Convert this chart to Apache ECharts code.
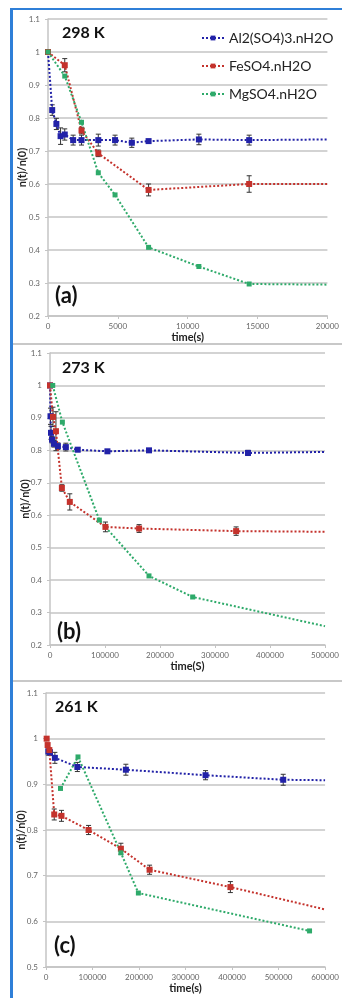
<!DOCTYPE html>
<html><head><meta charset="utf-8">
<script src="https://cdn.jsdelivr.net/npm/echarts@6/dist/echarts.min.js"></script>
<style>html,body{margin:0;padding:0;background:#fff}#c{width:342px;height:998px}</style>
</head><body><div id="c"></div>
<script>
const seriesNames = ['Al2(SO4)3.nH2O', 'FeSO4.nH2O', 'MgSO4.nH2O'];
const panelTemps = ['298 K', '273 K', '261 K'];
const panelTags = ['(a)', '(b)', '(c)'];
const xNames = ['time(s)', 'time(S)', 'time(s)'];

// ---- Panel (a) 298 K ----
const alT_a = [0, 300, 600, 900, 1200, 1800, 2400, 3600, 4800, 6000, 7200, 10800, 14400];
const alV_a = [1.0, 0.824, 0.782, 0.745, 0.75, 0.733, 0.733, 0.733, 0.733, 0.725, 0.73, 0.735, 0.733];
const alE_a = [0, 0.016, 0.017, 0.025, 0.017, 0.015, 0.015, 0.018, 0.015, 0.014, 0.004, 0.016, 0.015];
const alTail_a = [20000, 0.735];
const feT_a = [0, 1200, 2400, 3600, 7200, 14400];
const feV_a = [1.0, 0.96, 0.762, 0.693, 0.582, 0.60];
const feE_a = [0, 0.02, 0.01, 0.01, 0.018, 0.025];
const feTail_a = [20000, 0.60];
const mgT_a = [0, 1200, 2400, 3600, 4800, 7200, 10800, 14400];
const mgV_a = [1.0, 0.927, 0.787, 0.634, 0.567, 0.408, 0.35, 0.297];
const mgTail_a = [20000, 0.295];

// ---- Panel (b) 273 K ----
const alT_b = [0, 900, 1800, 3600, 7200, 14400, 28800, 50400, 104400, 180000, 360000];
const alV_b = [1.0, 0.905, 0.854, 0.833, 0.82, 0.813, 0.81, 0.802, 0.797, 0.80, 0.792];
const alE_b = [0, 0.025, 0.02, 0.01, 0.01, 0.01, 0.012, 0.006, 0.005, 0.005, 0.008];
const alTail_b = [500000, 0.795];
const feT_b = [0, 5400, 10800, 21600, 36000, 100800, 162000, 338400];
const feV_b = [1.0, 0.903, 0.859, 0.684, 0.641, 0.564, 0.559, 0.551];
const feE_b = [0, 0.03, 0.06, 0.01, 0.025, 0.015, 0.012, 0.013];
const feTail_b = [500000, 0.549];
const mgT_b = [5000, 22500, 89700, 180000, 259400];
const mgV_b = [1.0, 0.887, 0.585, 0.413, 0.348];
const mgTail_b = [500000, 0.258];

// ---- Panel (c) 261 K ----
const alT_c = [5000, 8500, 19100, 67400, 171700, 343000, 510000];
const alV_c = [0.972, 0.970, 0.958, 0.938, 0.932, 0.920, 0.910];
const alE_c = [0.008, 0.006, 0.012, 0.01, 0.012, 0.01, 0.012];
const alTail_c = [600000, 0.909];
const feT_c = [1400, 3500, 7200, 17700, 33300, 91500, 161000, 222700, 396400];
const feV_c = [1.0, 0.986, 0.975, 0.834, 0.831, 0.80, 0.759, 0.713, 0.675];
const feE_c = [0, 0, 0, 0.012, 0.012, 0.01, 0.012, 0.01, 0.012];
const feTail_c = [600000, 0.626];
const mgT_c = [31200, 68800, 161000, 198600, 566600];
const mgV_c = [0.891, 0.96, 0.75, 0.662, 0.579];

const xMax = [20000, 500000, 600000];
const xInterval = [5000, 100000, 100000];
const yMin = [0.2, 0.2, 0.5];
const yMax = [1.1, 1.1, 1.1];

const colors = ['#2222a8', '#c4322c', '#2eaa6a'];
const grids = [
  {left: 48, top: 19, right: 10, height: 297},
  {left: 50, top: 353, right: 17, height: 292},
  {left: 46, top: 693, right: 14, height: 274}
];
const yNameGap = [20, 19, 19];

function lineSeries(k, ts, vs, tail, gi) {
  const data = ts.map((t, i) => [t, vs[i]]);
  if (tail) data.push({value: tail, symbol: 'none'});
  return {
    type: 'line', name: seriesNames[k], xAxisIndex: gi, yAxisIndex: gi, data,
    symbol: 'rect', symbolSize: k === 2 ? 5 : 6,
    itemStyle: {color: colors[k]},
    lineStyle: {color: colors[k], width: 2, type: [2, 2]},
    z: 3, animation: false
  };
}
function renderErr(params, api) {
  const x = api.value(0), y = api.value(1), e = api.value(2);
  const lo = api.coord([x, y - e]), hi = api.coord([x, y + e]);
  const w = 2.5, st = {stroke: '#333', lineWidth: 1};
  return {type: 'group', children: [
    {type: 'line', shape: {x1: lo[0], y1: lo[1], x2: hi[0], y2: hi[1]}, style: st},
    {type: 'line', shape: {x1: lo[0] - w, y1: lo[1], x2: lo[0] + w, y2: lo[1]}, style: st},
    {type: 'line', shape: {x1: hi[0] - w, y1: hi[1], x2: hi[0] + w, y2: hi[1]}, style: st}
  ]};
}
function errSeries(ts, vs, es, gi) {
  const data = ts.map((t, i) => [t, vs[i], es[i]]).filter(d => d[2] > 0);
  return {type: 'custom', xAxisIndex: gi, yAxisIndex: gi, data, renderItem: renderErr,
    encode: {x: 0, y: 1}, z: 2, silent: true, animation: false};
}

const series = [
  errSeries(alT_a, alV_a, alE_a, 0), errSeries(feT_a, feV_a, feE_a, 0),
  lineSeries(0, alT_a, alV_a, alTail_a, 0), lineSeries(1, feT_a, feV_a, feTail_a, 0), lineSeries(2, mgT_a, mgV_a, mgTail_a, 0),
  errSeries(alT_b, alV_b, alE_b, 1), errSeries(feT_b, feV_b, feE_b, 1),
  lineSeries(0, alT_b, alV_b, alTail_b, 1), lineSeries(1, feT_b, feV_b, feTail_b, 1), lineSeries(2, mgT_b, mgV_b, mgTail_b, 1),
  errSeries(alT_c, alV_c, alE_c, 2), errSeries(feT_c, feV_c, feE_c, 2),
  lineSeries(0, alT_c, alV_c, alTail_c, 2), lineSeries(1, feT_c, feV_c, feTail_c, 2), lineSeries(2, mgT_c, mgV_c, null, 2)
];

const FONT = 'Lato, "Open Sans", sans-serif';
const gridColor = '#c4c4c4';
const xAxes = [0, 1, 2].map(i => ({
  type: 'value', gridIndex: i, min: 0, max: xMax[i], interval: xInterval[i],
  name: xNames[i], nameLocation: 'middle', nameGap: 16, nameMoveOverlap: false,
  nameTextStyle: {fontFamily: FONT, fontSize: 11, fontWeight: 'bold', color: '#222'},
  axisLine: {show: true, lineStyle: {color: gridColor, width: 1.5}},
  axisTick: {show: true, length: 3, lineStyle: {color: gridColor}},
  axisLabel: {fontFamily: FONT, fontSize: 8, color: '#666', margin: 6,
    formatter: v => String(v)},
  splitLine: {show: false}
}));
const yAxes = [0, 1, 2].map(i => ({
  type: 'value', gridIndex: i, min: yMin[i], max: yMax[i], interval: 0.1,
  name: 'n(t)/n(0)', nameLocation: 'middle', nameGap: yNameGap[i], nameMoveOverlap: false,
  nameTextStyle: {fontFamily: FONT, fontSize: 11, fontWeight: 'bold', color: '#222'},
  axisLine: {show: true, lineStyle: {color: gridColor, width: 1.5}},
  axisTick: {show: true, length: 3, lineStyle: {color: gridColor}},
  axisLabel: {fontFamily: FONT, fontSize: 8, color: '#666', margin: 8,
    formatter: v => String(+v.toFixed(1))},
  splitLine: {show: true, lineStyle: {color: gridColor, width: 1.5}}
}));

const tempPos = [[62, 25], [62, 360], [55, 699]];
const tagPos = [[55, 285], [57, 621], [54, 935]];
const graphic = [
  {type: 'rect', shape: {x: 10, y: 8, width: 3, height: 990}, style: {fill: '#2f7fd8'}, silent: true},
  {type: 'rect', shape: {x: 10, y: 8, width: 332, height: 2}, style: {fill: '#2f7fd8'}, silent: true},
  {type: 'rect', shape: {x: 13, y: 343, width: 329, height: 2}, style: {fill: '#c8c8c8'}, silent: true},
  {type: 'rect', shape: {x: 13, y: 680, width: 329, height: 2}, style: {fill: '#c8c8c8'}, silent: true}
];
for (let i = 0; i < 3; i++) {
  graphic.push({type: 'text', left: tempPos[i][0], top: tempPos[i][1],
    style: {text: panelTemps[i], font: 'bold 16px ' + FONT, fill: '#111'}, z: 10});
  graphic.push({type: 'text', left: tagPos[i][0], top: tagPos[i][1],
    style: {text: panelTags[i], font: 'bold 22px ' + FONT, fill: '#111'}, z: 10});
}

const chart = echarts.init(document.getElementById('c'), null, {renderer: 'canvas'});
chart.setOption({
  animation: false,
  backgroundColor: '#fff',
  grid: grids.map(g => Object.assign({containLabel: false}, g)),
  xAxis: xAxes,
  yAxis: yAxes,
  legend: {
    data: seriesNames, orient: 'vertical', left: 196, top: 26, itemGap: 14,
    itemWidth: 22, itemHeight: 6,
    textStyle: {fontFamily: FONT, fontSize: 14, color: '#222'}
  },
  graphic,
  series
});
</script></body></html>
